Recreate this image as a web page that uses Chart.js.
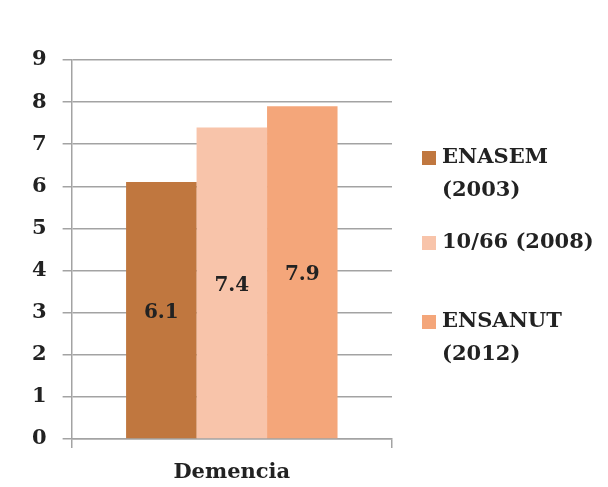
<!DOCTYPE html>
<html>
<head>
<meta charset="utf-8">
<script src="https://cdn.jsdelivr.net/npm/chart.js@4.4.1/dist/chart.umd.min.js"></script>
<style>
  html, body { margin: 0; padding: 0; background: #fff; }
  #wrap { width: 608px; height: 487px; }
</style>
</head>
<body>
<div id="wrap"><canvas id="chart" width="608" height="487"></canvas></div>
<script>
// datos
const categories = ["Demencia"];
const seriesNames = [["ENASEM", "(2003)"], ["10/66 (2008)"], ["ENSANUT", "(2012)"]];
const enasem = [6.1];
const diezSesentaSeis = [7.4];
const ensanut = [7.9];
const yTicks = [0, 1, 2, 3, 4, 5, 6, 7, 8, 9];

const colors = ["#C0773F", "#F8C4AA", "#F4A67A"];
const fontFamily = "'DejaVu Serif', serif";
const textColor = "#222222";
const gridColor = "#A3A3A3";

// etiquetas de valor dentro de las barras
const valueLabels = {
    id: "valueLabels",
    afterDatasetsDraw(chart) {
        const ctx = chart.ctx;
        ctx.save();
        ctx.font = "bold 20px " + fontFamily;
        ctx.fillStyle = textColor;
        ctx.textAlign = "center";
        ctx.textBaseline = "middle";
        chart.data.datasets.forEach((ds, i) => {
            chart.getDatasetMeta(i).data.forEach((bar, j) => {
                const y = (bar.y + bar.base) / 2 + 3;
                ctx.fillText(String(ds.data[j]), bar.x, y);
            });
        });
        ctx.restore();
    }
};

// leyenda a la derecha con texto en varias lineas
const sideLegend = {
    id: "sideLegend",
    afterDraw(chart, args, opts) {
        const ctx = chart.ctx;
        ctx.save();
        ctx.font = "bold 21px " + fontFamily;
        ctx.textBaseline = "middle";
        ctx.textAlign = "left";
        chart.data.datasets.forEach((ds, i) => {
            const y0 = opts.itemY[i];
            ctx.fillStyle = ds.backgroundColor;
            ctx.fillRect(opts.x, y0 - opts.box / 2, opts.box, opts.box);
            ctx.fillStyle = textColor;
            const lines = Array.isArray(ds.label) ? ds.label : [ds.label];
            lines.forEach((line, k) => {
                ctx.fillText(line, opts.textX, y0 + k * opts.lineHeight);
            });
        });
        ctx.restore();
    }
};

const ctx = document.getElementById("chart").getContext("2d");

new Chart(ctx, {
    type: "bar",
    data: {
        labels: categories,
        datasets: [
            { label: seriesNames[0], data: enasem, backgroundColor: colors[0] },
            { label: seriesNames[1], data: diezSesentaSeis, backgroundColor: colors[1] },
            { label: seriesNames[2], data: ensanut, backgroundColor: colors[2] }
        ]
    },
    options: {
        responsive: false,
        animation: false,
        categoryPercentage: 0.66,
        barPercentage: 1.0,
        layout: {
            padding: { left: 16, right: 216, top: 60, bottom: -10 }
        },
        scales: {
            x: {
                grid: {
                    drawOnChartArea: false,
                    drawTicks: true,
                    tickLength: 9,
                    color: gridColor,
                    lineWidth: 1.5
                },
                border: { color: gridColor, width: 1.5 },
                ticks: {
                    padding: 14,
                    color: textColor,
                    font: { family: fontFamily, size: 21, weight: "bold", lineHeight: 1 }
                }
            },
            y: {
                min: yTicks[0],
                max: yTicks[yTicks.length - 1],
                afterBuildTicks(scale) {
                    scale.ticks = yTicks.map(v => ({ value: v }));
                },
                grid: {
                    color: gridColor,
                    lineWidth: 1.5,
                    tickLength: 9
                },
                border: { color: gridColor, width: 1.5 },
                ticks: {
                    padding: 16,
                    color: textColor,
                    font: { family: fontFamily, size: 21, weight: "bold" }
                }
            }
        },
        plugins: {
            legend: { display: false },
            tooltip: { enabled: false },
            sideLegend: { x: 422, box: 14, textX: 442, lineHeight: 33, itemY: [158, 243, 322] }
        }
    },
    plugins: [valueLabels, sideLegend]
});
</script>
</body>
</html>
